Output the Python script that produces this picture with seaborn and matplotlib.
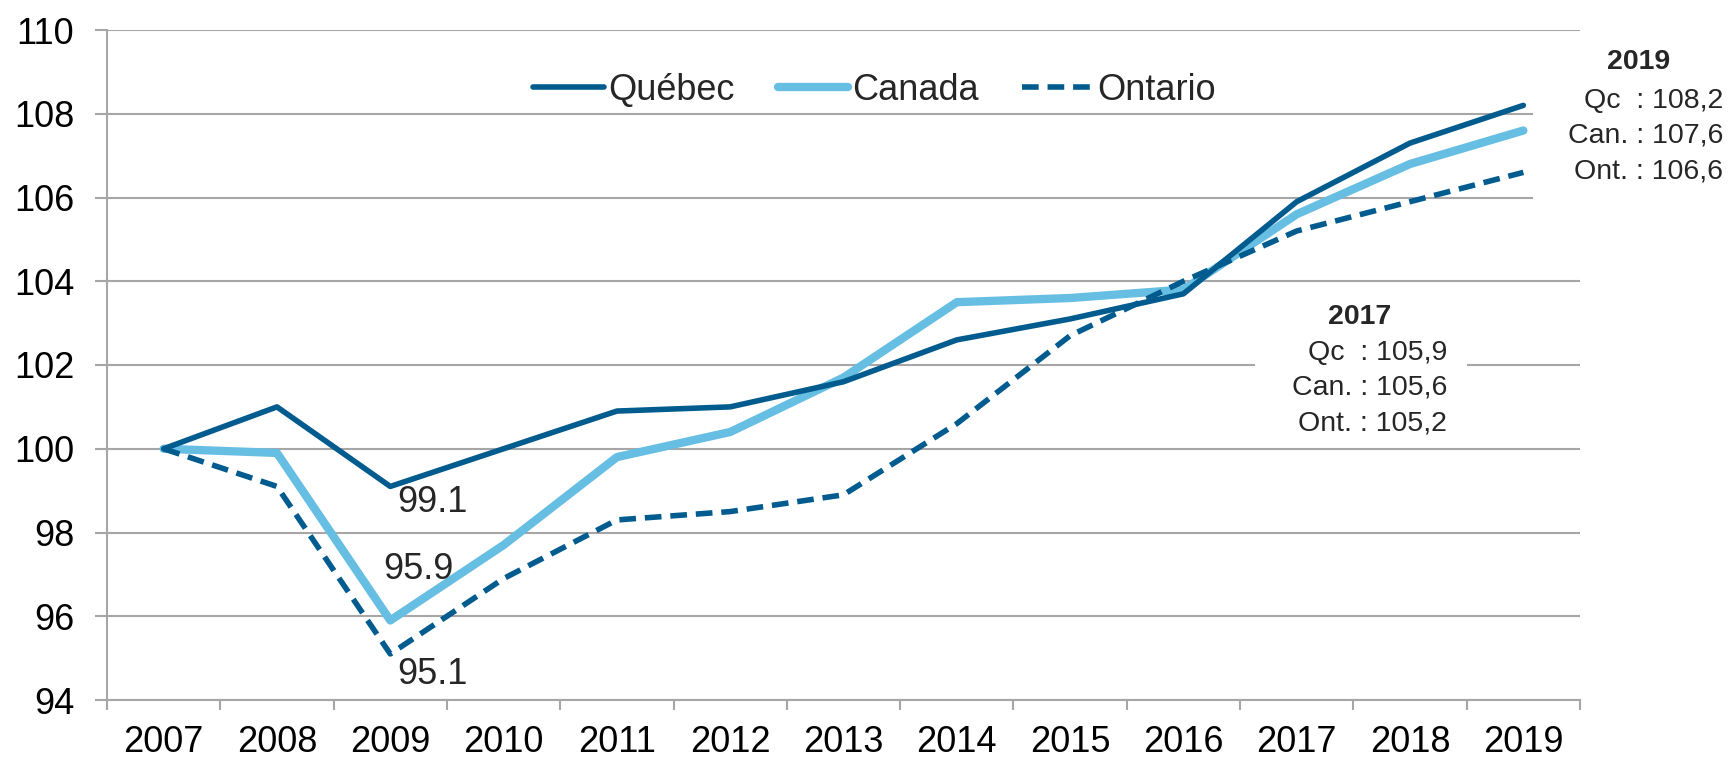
import matplotlib.pyplot as plt
from matplotlib.patches import Rectangle
from matplotlib.ticker import FixedLocator
import pandas as pd
import seaborn as sb

years = list(range(2007, 2020))
quebec = [100.0, 101.0, 99.1, 100.0, 100.9, 101.0, 101.6, 102.6, 103.1, 103.7, 105.9, 107.3, 108.2]
canada = [100.0, 99.9, 95.9, 97.7, 99.8, 100.4, 101.7, 103.5, 103.6, 103.8, 105.6, 106.8, 107.6]
ontario = [100.0, 99.1, 95.1, 96.9, 98.3, 98.5, 98.9, 100.6, 102.7, 104.0, 105.2, 105.9, 106.6]
notes_2017 = ['Qc  : 105,9', 'Can. : 105,6', 'Ont. : 105,2']
notes_2019 = ['Qc  : 108,2', 'Can. : 107,6', 'Ont. : 106,6']

df = pd.DataFrame({'annee': years, 'Québec': quebec, 'Canada': canada, 'Ontario': ontario})
df['pos'] = range(len(years))

sb.set_theme(style='white')
plt.rcParams['font.family'] = ['Liberation Sans', 'DejaVu Sans']

W, H = 1730, 760
fig = plt.figure(figsize=(W / 100, H / 100), dpi=100)
ax = fig.add_axes([107 / W, 1 - 700 / H, (1580 - 107) / W, 670 / H])

dark = '#005b8e'
light = '#67bee3'
sb.lineplot(x='pos', y='Québec', data=df, ax=ax, color=dark, linewidth=4, label='Québec', zorder=4)
sb.lineplot(x='pos', y='Canada', data=df, ax=ax, color=light, linewidth=6, label='Canada', zorder=3)
sb.lineplot(x='pos', y='Ontario', data=df, ax=ax, color=dark, linewidth=4, linestyle=(0, (3, 1.6)),
            label='Ontario', zorder=5)

ax.set_xlim(-0.5, len(years) - 0.5)
ax.set_ylim(94, 110)
ax.set_yticks(range(94, 111, 2))
ax.yaxis.grid(True, color='#a6a6a6', linewidth=1.5)
ax.set_axisbelow(True)
ax.xaxis.set_major_locator(FixedLocator([i - 0.5 for i in range(len(years) + 1)]))
ax.xaxis.set_minor_locator(FixedLocator(list(range(len(years)))))
ax.set_xticklabels([])
ax.set_xticklabels([str(y) for y in years], minor=True)
ax.tick_params(axis='x', which='major', length=7.5, width=1.5, color='#a6a6a6', direction='out', bottom=True)
ax.tick_params(axis='x', which='minor', length=0, pad=18, labelsize=26, colors='black')
ax.tick_params(axis='y', length=8.5, width=1.5, color='#a6a6a6', direction='out', left=True, pad=15,
               labelsize=26, labelcolor='black')
for s in ['top', 'right']:
    ax.spines[s].set_visible(False)
for s in ['left', 'bottom']:
    ax.spines[s].set_color('#a6a6a6')
    ax.spines[s].set_linewidth(1.5)
ax.set_xlabel('')
ax.set_ylabel('')

ax.legend(loc='center', bbox_to_anchor=(0.521, 0.91), ncol=3, frameon=False, fontsize=26,
          handlelength=1.95, handletextpad=0.12, columnspacing=1.2)

# valeurs de 2009
ax.annotate(f'{quebec[2]:.1f}', (2, quebec[2]), xytext=(5, -11.5), textcoords='offset points',
            ha='left', va='center', fontsize=26)
ax.annotate(f'{canada[2]:.1f}', (2, canada[2]), xytext=(-5, 37), textcoords='offset points',
            ha='left', va='center', fontsize=26)
ax.annotate(f'{ontario[2]:.1f}', (2, ontario[2]), xytext=(5, -15), textcoords='offset points',
            ha='left', va='center', fontsize=26)

# boîtes blanches qui coupent la grille
ax.add_patch(Rectangle((1255 / W, 1 - 440 / H), 212 / W, 150 / H, transform=fig.transFigure,
                       facecolor='white', edgecolor='none', zorder=2, clip_on=False))
ax.add_patch(Rectangle((1533 / W, 1 - 210 / H), 197 / W, 175 / H, transform=fig.transFigure,
                       facecolor='white', edgecolor='none', zorder=2, clip_on=False))

fig.text(1360 / W, 1 - 317 / H, '2017', ha='center', va='center', fontsize=20.5, fontweight='bold')
for i, t in enumerate(notes_2017):
    fig.text(1447 / W, 1 - (353 + 35 * i) / H, t, ha='right', va='center', fontsize=20.5)
fig.text(1639 / W, 1 - 62 / H, '2019', ha='center', va='center', fontsize=20.5, fontweight='bold')
for i, t in enumerate(notes_2019):
    fig.text(1723 / W, 1 - (101 + 35 * i) / H, t, ha='right', va='center', fontsize=20.5)

plt.savefig('out.png', dpi=100)
